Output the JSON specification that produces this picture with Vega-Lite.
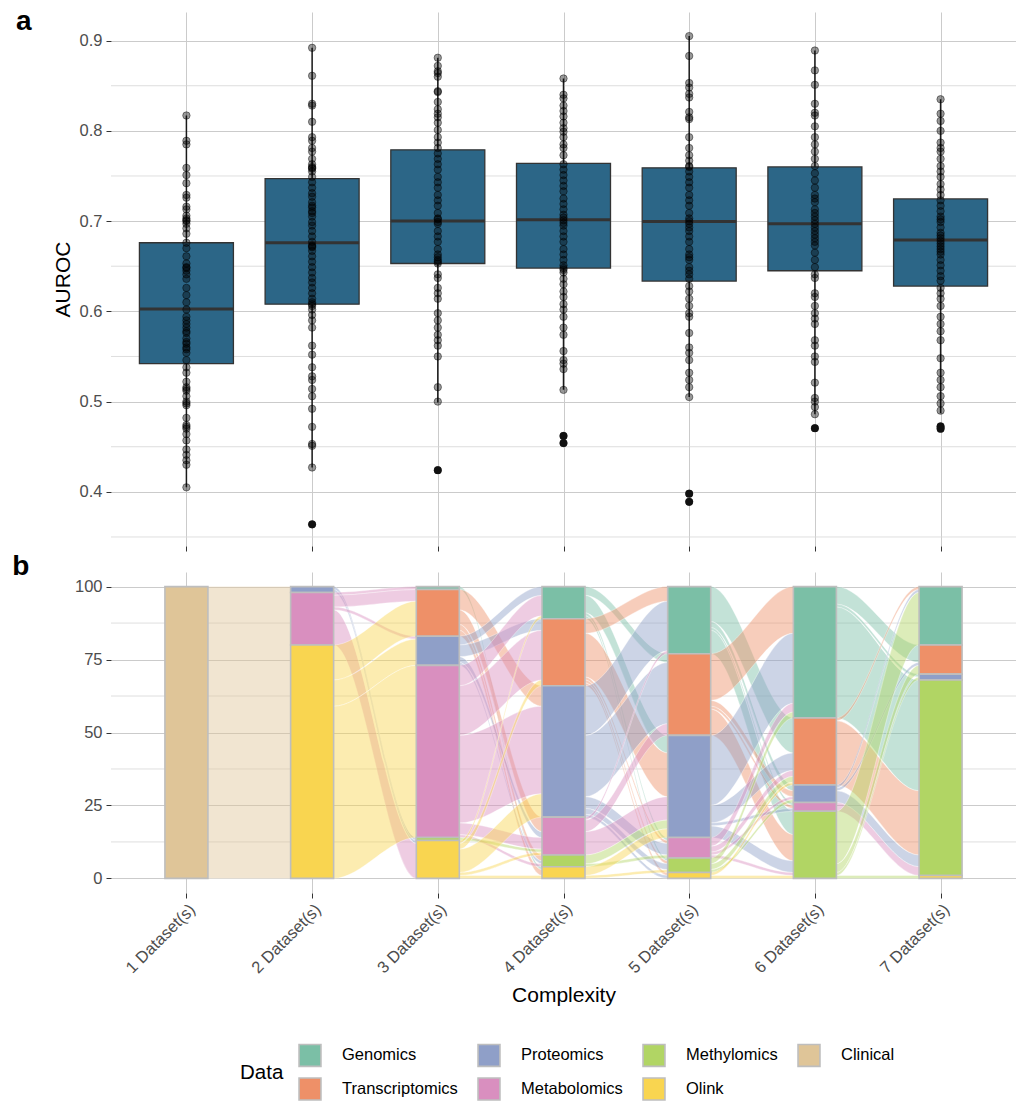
{
"$schema":"https://vega.github.io/schema/vega-lite/v6.json",
"padding":{"left":12,"top":8,"right":0,"bottom":0},
"spacing":26,
"bounds":"flush",
"config":{"font":"Liberation Sans","view":{"stroke":null},
 "axis":{"labelFontSize":16.5,"labelColor":"#4d4d4d","titleFontSize":21,"titleFontWeight":"normal","titleColor":"#000000","gridColor":"#cbcbcb","gridWidth":1,"tickColor":"#333333","tickSize":5,"domain":false,"labelPadding":4}},
"datasets":{
"box":[
{"g":1,"lo":0.405,"q1":0.542,"med":0.6025,"q3":0.676,"hi":0.817},
{"g":2,"lo":0.427,"q1":0.608,"med":0.676,"q3":0.747,"hi":0.892},
{"g":3,"lo":0.499,"q1":0.653,"med":0.700,"q3":0.779,"hi":0.881},
{"g":4,"lo":0.513,"q1":0.648,"med":0.7015,"q3":0.764,"hi":0.858},
{"g":5,"lo":0.505,"q1":0.6335,"med":0.6995,"q3":0.759,"hi":0.905},
{"g":6,"lo":0.486,"q1":0.645,"med":0.697,"q3":0.760,"hi":0.889},
{"g":7,"lo":0.487,"q1":0.628,"med":0.679,"q3":0.7246,"hi":0.835}],
"out":[{"g":2,"v":0.364},{"g":3,"v":0.424},{"g":4,"v":0.462},{"g":4,"v":0.454},{"g":5,"v":0.398},{"g":5,"v":0.389},{"g":6,"v":0.4705},{"g":7,"v":0.4725},{"g":7,"v":0.470}],
"pts":[
{"g":1,"v":0.817},{"g":1,"v":0.789},{"g":1,"v":0.785},{"g":1,"v":0.759},{"g":1,"v":0.751},{"g":1,"v":0.742},{"g":1,"v":0.729},{"g":1,"v":0.726},{"g":1,"v":0.716},{"g":1,"v":0.713},{"g":1,"v":0.706},{"g":1,"v":0.701},{"g":1,"v":0.697},{"g":1,"v":0.692},{"g":1,"v":0.686},{"g":1,"v":0.676},{"g":1,"v":0.670},{"g":1,"v":0.661},{"g":1,"v":0.653},{"g":1,"v":0.649},{"g":1,"v":0.645},{"g":1,"v":0.641},{"g":1,"v":0.636},{"g":1,"v":0.626},{"g":1,"v":0.618},{"g":1,"v":0.610},{"g":1,"v":0.602},{"g":1,"v":0.594},{"g":1,"v":0.586},{"g":1,"v":0.582},{"g":1,"v":0.576},{"g":1,"v":0.570},{"g":1,"v":0.564},{"g":1,"v":0.560},{"g":1,"v":0.554},{"g":1,"v":0.546},{"g":1,"v":0.538},{"g":1,"v":0.532},{"g":1,"v":0.522},{"g":1,"v":0.516},{"g":1,"v":0.514},{"g":1,"v":0.506},{"g":1,"v":0.500},{"g":1,"v":0.496},{"g":1,"v":0.482},{"g":1,"v":0.474},{"g":1,"v":0.470},{"g":1,"v":0.464},{"g":1,"v":0.457},{"g":1,"v":0.447},{"g":1,"v":0.441},{"g":1,"v":0.435},{"g":1,"v":0.430},{"g":1,"v":0.405},{"g":1,"v":0.700},{"g":1,"v":0.703},{"g":1,"v":0.648},{"g":1,"v":0.590},{"g":1,"v":0.578},{"g":1,"v":0.566},{"g":1,"v":0.558},{"g":1,"v":0.512},{"g":1,"v":0.498},{"g":1,"v":0.472},
{"g":2,"v":0.892},{"g":2,"v":0.861},{"g":2,"v":0.830},{"g":2,"v":0.828},{"g":2,"v":0.810},{"g":2,"v":0.793},{"g":2,"v":0.789},{"g":2,"v":0.781},{"g":2,"v":0.777},{"g":2,"v":0.769},{"g":2,"v":0.763},{"g":2,"v":0.759},{"g":2,"v":0.755},{"g":2,"v":0.749},{"g":2,"v":0.743},{"g":2,"v":0.737},{"g":2,"v":0.731},{"g":2,"v":0.727},{"g":2,"v":0.721},{"g":2,"v":0.717},{"g":2,"v":0.711},{"g":2,"v":0.705},{"g":2,"v":0.699},{"g":2,"v":0.695},{"g":2,"v":0.689},{"g":2,"v":0.683},{"g":2,"v":0.677},{"g":2,"v":0.673},{"g":2,"v":0.667},{"g":2,"v":0.661},{"g":2,"v":0.655},{"g":2,"v":0.649},{"g":2,"v":0.643},{"g":2,"v":0.637},{"g":2,"v":0.632},{"g":2,"v":0.626},{"g":2,"v":0.620},{"g":2,"v":0.614},{"g":2,"v":0.608},{"g":2,"v":0.602},{"g":2,"v":0.596},{"g":2,"v":0.590},{"g":2,"v":0.582},{"g":2,"v":0.562},{"g":2,"v":0.552},{"g":2,"v":0.538},{"g":2,"v":0.528},{"g":2,"v":0.524},{"g":2,"v":0.514},{"g":2,"v":0.506},{"g":2,"v":0.492},{"g":2,"v":0.472},{"g":2,"v":0.453},{"g":2,"v":0.451},{"g":2,"v":0.427},{"g":2,"v":0.364},{"g":2,"v":0.760},{"g":2,"v":0.758},{"g":2,"v":0.715},{"g":2,"v":0.709},{"g":2,"v":0.672},{"g":2,"v":0.671},{"g":2,"v":0.610},{"g":2,"v":0.606},
{"g":3,"v":0.881},{"g":3,"v":0.872},{"g":3,"v":0.864},{"g":3,"v":0.860},{"g":3,"v":0.844},{"g":3,"v":0.832},{"g":3,"v":0.824},{"g":3,"v":0.819},{"g":3,"v":0.815},{"g":3,"v":0.809},{"g":3,"v":0.801},{"g":3,"v":0.793},{"g":3,"v":0.787},{"g":3,"v":0.781},{"g":3,"v":0.775},{"g":3,"v":0.769},{"g":3,"v":0.763},{"g":3,"v":0.757},{"g":3,"v":0.749},{"g":3,"v":0.743},{"g":3,"v":0.737},{"g":3,"v":0.729},{"g":3,"v":0.723},{"g":3,"v":0.717},{"g":3,"v":0.709},{"g":3,"v":0.703},{"g":3,"v":0.697},{"g":3,"v":0.689},{"g":3,"v":0.683},{"g":3,"v":0.677},{"g":3,"v":0.669},{"g":3,"v":0.663},{"g":3,"v":0.657},{"g":3,"v":0.653},{"g":3,"v":0.641},{"g":3,"v":0.637},{"g":3,"v":0.626},{"g":3,"v":0.620},{"g":3,"v":0.614},{"g":3,"v":0.598},{"g":3,"v":0.590},{"g":3,"v":0.582},{"g":3,"v":0.574},{"g":3,"v":0.568},{"g":3,"v":0.562},{"g":3,"v":0.550},{"g":3,"v":0.516},{"g":3,"v":0.500},{"g":3,"v":0.424},{"g":3,"v":0.866},{"g":3,"v":0.843},{"g":3,"v":0.702},{"g":3,"v":0.699},{"g":3,"v":0.660},{"g":3,"v":0.655},
{"g":4,"v":0.858},{"g":4,"v":0.840},{"g":4,"v":0.836},{"g":4,"v":0.828},{"g":4,"v":0.822},{"g":4,"v":0.816},{"g":4,"v":0.809},{"g":4,"v":0.803},{"g":4,"v":0.799},{"g":4,"v":0.793},{"g":4,"v":0.785},{"g":4,"v":0.781},{"g":4,"v":0.773},{"g":4,"v":0.763},{"g":4,"v":0.757},{"g":4,"v":0.751},{"g":4,"v":0.745},{"g":4,"v":0.739},{"g":4,"v":0.733},{"g":4,"v":0.725},{"g":4,"v":0.719},{"g":4,"v":0.713},{"g":4,"v":0.707},{"g":4,"v":0.701},{"g":4,"v":0.695},{"g":4,"v":0.689},{"g":4,"v":0.683},{"g":4,"v":0.677},{"g":4,"v":0.669},{"g":4,"v":0.663},{"g":4,"v":0.657},{"g":4,"v":0.651},{"g":4,"v":0.643},{"g":4,"v":0.636},{"g":4,"v":0.630},{"g":4,"v":0.622},{"g":4,"v":0.616},{"g":4,"v":0.608},{"g":4,"v":0.602},{"g":4,"v":0.594},{"g":4,"v":0.582},{"g":4,"v":0.574},{"g":4,"v":0.556},{"g":4,"v":0.546},{"g":4,"v":0.542},{"g":4,"v":0.536},{"g":4,"v":0.513},{"g":4,"v":0.462},{"g":4,"v":0.454},{"g":4,"v":0.704},{"g":4,"v":0.698},{"g":4,"v":0.648},{"g":4,"v":0.646},
{"g":5,"v":0.905},{"g":5,"v":0.883},{"g":5,"v":0.853},{"g":5,"v":0.848},{"g":5,"v":0.841},{"g":5,"v":0.837},{"g":5,"v":0.821},{"g":5,"v":0.815},{"g":5,"v":0.813},{"g":5,"v":0.793},{"g":5,"v":0.781},{"g":5,"v":0.773},{"g":5,"v":0.767},{"g":5,"v":0.761},{"g":5,"v":0.755},{"g":5,"v":0.749},{"g":5,"v":0.743},{"g":5,"v":0.737},{"g":5,"v":0.729},{"g":5,"v":0.723},{"g":5,"v":0.717},{"g":5,"v":0.709},{"g":5,"v":0.703},{"g":5,"v":0.697},{"g":5,"v":0.689},{"g":5,"v":0.683},{"g":5,"v":0.677},{"g":5,"v":0.669},{"g":5,"v":0.663},{"g":5,"v":0.657},{"g":5,"v":0.649},{"g":5,"v":0.641},{"g":5,"v":0.636},{"g":5,"v":0.628},{"g":5,"v":0.622},{"g":5,"v":0.614},{"g":5,"v":0.606},{"g":5,"v":0.598},{"g":5,"v":0.594},{"g":5,"v":0.576},{"g":5,"v":0.560},{"g":5,"v":0.554},{"g":5,"v":0.546},{"g":5,"v":0.532},{"g":5,"v":0.524},{"g":5,"v":0.516},{"g":5,"v":0.505},{"g":5,"v":0.398},{"g":5,"v":0.389},{"g":5,"v":0.760},{"g":5,"v":0.700},{"g":5,"v":0.693},{"g":5,"v":0.660},{"g":5,"v":0.645},
{"g":6,"v":0.889},{"g":6,"v":0.867},{"g":6,"v":0.851},{"g":6,"v":0.830},{"g":6,"v":0.820},{"g":6,"v":0.817},{"g":6,"v":0.805},{"g":6,"v":0.793},{"g":6,"v":0.785},{"g":6,"v":0.777},{"g":6,"v":0.769},{"g":6,"v":0.761},{"g":6,"v":0.753},{"g":6,"v":0.745},{"g":6,"v":0.737},{"g":6,"v":0.729},{"g":6,"v":0.721},{"g":6,"v":0.713},{"g":6,"v":0.705},{"g":6,"v":0.697},{"g":6,"v":0.689},{"g":6,"v":0.681},{"g":6,"v":0.673},{"g":6,"v":0.665},{"g":6,"v":0.657},{"g":6,"v":0.649},{"g":6,"v":0.641},{"g":6,"v":0.637},{"g":6,"v":0.620},{"g":6,"v":0.616},{"g":6,"v":0.606},{"g":6,"v":0.598},{"g":6,"v":0.592},{"g":6,"v":0.586},{"g":6,"v":0.568},{"g":6,"v":0.562},{"g":6,"v":0.550},{"g":6,"v":0.544},{"g":6,"v":0.521},{"g":6,"v":0.504},{"g":6,"v":0.500},{"g":6,"v":0.494},{"g":6,"v":0.486},{"g":6,"v":0.4705},{"g":6,"v":0.701},{"g":6,"v":0.693},{"g":6,"v":0.685},{"g":6,"v":0.677},{"g":6,"v":0.725},{"g":6,"v":0.709},
{"g":7,"v":0.835},{"g":7,"v":0.819},{"g":7,"v":0.811},{"g":7,"v":0.800},{"g":7,"v":0.787},{"g":7,"v":0.781},{"g":7,"v":0.777},{"g":7,"v":0.769},{"g":7,"v":0.761},{"g":7,"v":0.755},{"g":7,"v":0.749},{"g":7,"v":0.741},{"g":7,"v":0.735},{"g":7,"v":0.729},{"g":7,"v":0.723},{"g":7,"v":0.717},{"g":7,"v":0.711},{"g":7,"v":0.705},{"g":7,"v":0.699},{"g":7,"v":0.693},{"g":7,"v":0.687},{"g":7,"v":0.681},{"g":7,"v":0.675},{"g":7,"v":0.669},{"g":7,"v":0.663},{"g":7,"v":0.657},{"g":7,"v":0.651},{"g":7,"v":0.645},{"g":7,"v":0.639},{"g":7,"v":0.634},{"g":7,"v":0.626},{"g":7,"v":0.620},{"g":7,"v":0.614},{"g":7,"v":0.606},{"g":7,"v":0.594},{"g":7,"v":0.586},{"g":7,"v":0.578},{"g":7,"v":0.568},{"g":7,"v":0.548},{"g":7,"v":0.532},{"g":7,"v":0.524},{"g":7,"v":0.516},{"g":7,"v":0.506},{"g":7,"v":0.498},{"g":7,"v":0.490},{"g":7,"v":0.4725},{"g":7,"v":0.470},{"g":7,"v":0.684},{"g":7,"v":0.678},{"g":7,"v":0.672},{"g":7,"v":0.666},{"g":7,"v":0.702}],
"minorA":[{"m":0.35},{"m":0.45},{"m":0.55},{"m":0.65},{"m":0.75},{"m":0.85}],
"minorB":[{"m":12.5},{"m":37.5},{"m":62.5},{"m":87.5}],
"bars":[
{"c":1,"d":"Clinical","lo":0,"hi":100},
{"c":2,"d":"Proteomics","lo":98,"hi":100},{"c":2,"d":"Metabolomics","lo":80,"hi":98},{"c":2,"d":"Olink","lo":0,"hi":80},
{"c":3,"d":"Genomics","lo":99,"hi":100},{"c":3,"d":"Transcriptomics","lo":83,"hi":99},{"c":3,"d":"Proteomics","lo":73,"hi":83},{"c":3,"d":"Metabolomics","lo":14,"hi":73},{"c":3,"d":"Methylomics","lo":13,"hi":14},{"c":3,"d":"Olink","lo":0,"hi":13},
{"c":4,"d":"Genomics","lo":89,"hi":100},{"c":4,"d":"Transcriptomics","lo":66,"hi":89},{"c":4,"d":"Proteomics","lo":21,"hi":66},{"c":4,"d":"Metabolomics","lo":8,"hi":21},{"c":4,"d":"Methylomics","lo":4,"hi":8},{"c":4,"d":"Olink","lo":0,"hi":4},
{"c":5,"d":"Genomics","lo":77,"hi":100},{"c":5,"d":"Transcriptomics","lo":49,"hi":77},{"c":5,"d":"Proteomics","lo":14,"hi":49},{"c":5,"d":"Metabolomics","lo":7,"hi":14},{"c":5,"d":"Methylomics","lo":2,"hi":7},{"c":5,"d":"Olink","lo":0,"hi":2},
{"c":6,"d":"Genomics","lo":55,"hi":100},{"c":6,"d":"Transcriptomics","lo":32,"hi":55},{"c":6,"d":"Proteomics","lo":26,"hi":32},{"c":6,"d":"Metabolomics","lo":23,"hi":26},{"c":6,"d":"Methylomics","lo":0,"hi":23},
{"c":7,"d":"Genomics","lo":80,"hi":100},{"c":7,"d":"Transcriptomics","lo":70,"hi":80},{"c":7,"d":"Proteomics","lo":68,"hi":70},{"c":7,"d":"Methylomics","lo":1,"hi":68},{"c":7,"d":"Olink","lo":0,"hi":1}],
"flows":[
{"f":1,"d":"Clinical","x":1,"lo":0,"hi":100},{"f":1,"d":"Clinical","x":1.17,"lo":0,"hi":100},{"f":1,"d":"Clinical","x":1.83,"lo":0,"hi":100},{"f":1,"d":"Clinical","x":2,"lo":0,"hi":100},
{"f":2,"d":"Proteomics","x":2,"lo":99,"hi":100},{"f":2,"d":"Proteomics","x":2.17,"lo":99,"hi":100},{"f":2,"d":"Proteomics","x":2.83,"lo":13,"hi":14},{"f":2,"d":"Proteomics","x":3,"lo":13,"hi":14},
{"f":3,"d":"Proteomics","x":2,"lo":98,"hi":99},{"f":3,"d":"Proteomics","x":2.17,"lo":98,"hi":99},{"f":3,"d":"Proteomics","x":2.83,"lo":12,"hi":13},{"f":3,"d":"Proteomics","x":3,"lo":12,"hi":13},
{"f":4,"d":"Metabolomics","x":2,"lo":97,"hi":98},{"f":4,"d":"Metabolomics","x":2.17,"lo":97,"hi":98},{"f":4,"d":"Metabolomics","x":2.83,"lo":99,"hi":100},{"f":4,"d":"Metabolomics","x":3,"lo":99,"hi":100},
{"f":5,"d":"Metabolomics","x":2,"lo":93,"hi":97},{"f":5,"d":"Metabolomics","x":2.17,"lo":93,"hi":97},{"f":5,"d":"Metabolomics","x":2.83,"lo":95,"hi":99},{"f":5,"d":"Metabolomics","x":3,"lo":95,"hi":99},
{"f":6,"d":"Metabolomics","x":2,"lo":92,"hi":93},{"f":6,"d":"Metabolomics","x":2.17,"lo":92,"hi":93},{"f":6,"d":"Metabolomics","x":2.83,"lo":82,"hi":83},{"f":6,"d":"Metabolomics","x":3,"lo":82,"hi":83},
{"f":7,"d":"Metabolomics","x":2,"lo":80,"hi":92},{"f":7,"d":"Metabolomics","x":2.17,"lo":80,"hi":92},{"f":7,"d":"Metabolomics","x":2.83,"lo":0,"hi":12},{"f":7,"d":"Metabolomics","x":3,"lo":0,"hi":12},
{"f":8,"d":"Olink","x":2,"lo":68,"hi":80},{"f":8,"d":"Olink","x":2.17,"lo":68,"hi":80},{"f":8,"d":"Olink","x":2.83,"lo":83,"hi":95},{"f":8,"d":"Olink","x":3,"lo":83,"hi":95},
{"f":9,"d":"Olink","x":2,"lo":59,"hi":68},{"f":9,"d":"Olink","x":2.17,"lo":59,"hi":68},{"f":9,"d":"Olink","x":2.83,"lo":73,"hi":82},{"f":9,"d":"Olink","x":3,"lo":73,"hi":82},
{"f":10,"d":"Olink","x":2,"lo":0,"hi":59},{"f":10,"d":"Olink","x":2.17,"lo":0,"hi":59},{"f":10,"d":"Olink","x":2.83,"lo":14,"hi":73},{"f":10,"d":"Olink","x":3,"lo":14,"hi":73},
{"f":11,"d":"Genomics","x":3,"lo":99,"hi":100},{"f":11,"d":"Genomics","x":3.17,"lo":99,"hi":100},{"f":11,"d":"Genomics","x":3.83,"lo":3,"hi":4},{"f":11,"d":"Genomics","x":4,"lo":3,"hi":4},
{"f":12,"d":"Transcriptomics","x":3,"lo":92,"hi":99},{"f":12,"d":"Transcriptomics","x":3.17,"lo":92,"hi":99},{"f":12,"d":"Transcriptomics","x":3.83,"lo":59,"hi":66},{"f":12,"d":"Transcriptomics","x":4,"lo":59,"hi":66},
{"f":13,"d":"Transcriptomics","x":3,"lo":87,"hi":92},{"f":13,"d":"Transcriptomics","x":3.17,"lo":87,"hi":92},{"f":13,"d":"Transcriptomics","x":3.83,"lo":16,"hi":21},{"f":13,"d":"Transcriptomics","x":4,"lo":16,"hi":21},
{"f":14,"d":"Transcriptomics","x":3,"lo":85,"hi":87},{"f":14,"d":"Transcriptomics","x":3.17,"lo":85,"hi":87},{"f":14,"d":"Transcriptomics","x":3.83,"lo":6,"hi":8},{"f":14,"d":"Transcriptomics","x":4,"lo":6,"hi":8},
{"f":15,"d":"Transcriptomics","x":3,"lo":83,"hi":85},{"f":15,"d":"Transcriptomics","x":3.17,"lo":83,"hi":85},{"f":15,"d":"Transcriptomics","x":3.83,"lo":1,"hi":3},{"f":15,"d":"Transcriptomics","x":4,"lo":1,"hi":3},
{"f":16,"d":"Proteomics","x":3,"lo":80,"hi":83},{"f":16,"d":"Proteomics","x":3.17,"lo":80,"hi":83},{"f":16,"d":"Proteomics","x":3.83,"lo":97,"hi":100},{"f":16,"d":"Proteomics","x":4,"lo":97,"hi":100},
{"f":17,"d":"Proteomics","x":3,"lo":76,"hi":80},{"f":17,"d":"Proteomics","x":3.17,"lo":76,"hi":80},{"f":17,"d":"Proteomics","x":3.83,"lo":85,"hi":89},{"f":17,"d":"Proteomics","x":4,"lo":85,"hi":89},
{"f":18,"d":"Proteomics","x":3,"lo":74,"hi":76},{"f":18,"d":"Proteomics","x":3.17,"lo":74,"hi":76},{"f":18,"d":"Proteomics","x":3.83,"lo":14,"hi":16},{"f":18,"d":"Proteomics","x":4,"lo":14,"hi":16},
{"f":19,"d":"Proteomics","x":3,"lo":73,"hi":74},{"f":19,"d":"Proteomics","x":3.17,"lo":73,"hi":74},{"f":19,"d":"Proteomics","x":3.83,"lo":5,"hi":6},{"f":19,"d":"Proteomics","x":4,"lo":5,"hi":6},
{"f":20,"d":"Metabolomics","x":3,"lo":66,"hi":73},{"f":20,"d":"Metabolomics","x":3.17,"lo":66,"hi":73},{"f":20,"d":"Metabolomics","x":3.83,"lo":90,"hi":97},{"f":20,"d":"Metabolomics","x":4,"lo":90,"hi":97},
{"f":21,"d":"Metabolomics","x":3,"lo":49,"hi":66},{"f":21,"d":"Metabolomics","x":3.17,"lo":49,"hi":66},{"f":21,"d":"Metabolomics","x":3.83,"lo":68,"hi":85},{"f":21,"d":"Metabolomics","x":4,"lo":68,"hi":85},
{"f":22,"d":"Metabolomics","x":3,"lo":19,"hi":49},{"f":22,"d":"Metabolomics","x":3.17,"lo":19,"hi":49},{"f":22,"d":"Metabolomics","x":3.83,"lo":29,"hi":59},{"f":22,"d":"Metabolomics","x":4,"lo":29,"hi":59},
{"f":23,"d":"Metabolomics","x":3,"lo":15,"hi":19},{"f":23,"d":"Metabolomics","x":3.17,"lo":15,"hi":19},{"f":23,"d":"Metabolomics","x":3.83,"lo":10,"hi":14},{"f":23,"d":"Metabolomics","x":4,"lo":10,"hi":14},
{"f":24,"d":"Metabolomics","x":3,"lo":14,"hi":15},{"f":24,"d":"Metabolomics","x":3.17,"lo":14,"hi":15},{"f":24,"d":"Metabolomics","x":3.83,"lo":4,"hi":5},{"f":24,"d":"Metabolomics","x":4,"lo":4,"hi":5},
{"f":25,"d":"Methylomics","x":3,"lo":13,"hi":14},{"f":25,"d":"Methylomics","x":3.17,"lo":13,"hi":14},{"f":25,"d":"Methylomics","x":3.83,"lo":9,"hi":10},{"f":25,"d":"Methylomics","x":4,"lo":9,"hi":10},
{"f":26,"d":"Olink","x":3,"lo":12,"hi":13},{"f":26,"d":"Olink","x":3.17,"lo":12,"hi":13},{"f":26,"d":"Olink","x":3.83,"lo":89,"hi":90},{"f":26,"d":"Olink","x":4,"lo":89,"hi":90},
{"f":27,"d":"Olink","x":3,"lo":10,"hi":12},{"f":27,"d":"Olink","x":3.17,"lo":10,"hi":12},{"f":27,"d":"Olink","x":3.83,"lo":66,"hi":68},{"f":27,"d":"Olink","x":4,"lo":66,"hi":68},
{"f":28,"d":"Olink","x":3,"lo":2,"hi":10},{"f":28,"d":"Olink","x":3.17,"lo":2,"hi":10},{"f":28,"d":"Olink","x":3.83,"lo":21,"hi":29},{"f":28,"d":"Olink","x":4,"lo":21,"hi":29},
{"f":29,"d":"Olink","x":3,"lo":1,"hi":2},{"f":29,"d":"Olink","x":3.17,"lo":1,"hi":2},{"f":29,"d":"Olink","x":3.83,"lo":8,"hi":9},{"f":29,"d":"Olink","x":4,"lo":8,"hi":9},
{"f":30,"d":"Olink","x":3,"lo":0,"hi":1},{"f":30,"d":"Olink","x":3.17,"lo":0,"hi":1},{"f":30,"d":"Olink","x":3.83,"lo":0,"hi":1},{"f":30,"d":"Olink","x":4,"lo":0,"hi":1},
{"f":31,"d":"Genomics","x":4,"lo":97,"hi":100},{"f":31,"d":"Genomics","x":4.17,"lo":97,"hi":100},{"f":31,"d":"Genomics","x":4.83,"lo":74,"hi":77},{"f":31,"d":"Genomics","x":5,"lo":74,"hi":77},
{"f":32,"d":"Genomics","x":4,"lo":91,"hi":97},{"f":32,"d":"Genomics","x":4.17,"lo":91,"hi":97},{"f":32,"d":"Genomics","x":4.83,"lo":43,"hi":49},{"f":32,"d":"Genomics","x":5,"lo":43,"hi":49},
{"f":33,"d":"Genomics","x":4,"lo":90,"hi":91},{"f":33,"d":"Genomics","x":4.17,"lo":90,"hi":91},{"f":33,"d":"Genomics","x":4.83,"lo":13,"hi":14},{"f":33,"d":"Genomics","x":5,"lo":13,"hi":14},
{"f":34,"d":"Genomics","x":4,"lo":89,"hi":90},{"f":34,"d":"Genomics","x":4.17,"lo":89,"hi":90},{"f":34,"d":"Genomics","x":4.83,"lo":6,"hi":7},{"f":34,"d":"Genomics","x":5,"lo":6,"hi":7},
{"f":35,"d":"Transcriptomics","x":4,"lo":84,"hi":89},{"f":35,"d":"Transcriptomics","x":4.17,"lo":84,"hi":89},{"f":35,"d":"Transcriptomics","x":4.83,"lo":95,"hi":100},{"f":35,"d":"Transcriptomics","x":5,"lo":95,"hi":100},
{"f":36,"d":"Transcriptomics","x":4,"lo":69,"hi":84},{"f":36,"d":"Transcriptomics","x":4.17,"lo":69,"hi":84},{"f":36,"d":"Transcriptomics","x":4.83,"lo":28,"hi":43},{"f":36,"d":"Transcriptomics","x":5,"lo":28,"hi":43},
{"f":37,"d":"Transcriptomics","x":4,"lo":68,"hi":69},{"f":37,"d":"Transcriptomics","x":4.17,"lo":68,"hi":69},{"f":37,"d":"Transcriptomics","x":4.83,"lo":12,"hi":13},{"f":37,"d":"Transcriptomics","x":5,"lo":12,"hi":13},
{"f":38,"d":"Transcriptomics","x":4,"lo":67,"hi":68},{"f":38,"d":"Transcriptomics","x":4.17,"lo":67,"hi":68},{"f":38,"d":"Transcriptomics","x":4.83,"lo":5,"hi":6},{"f":38,"d":"Transcriptomics","x":5,"lo":5,"hi":6},
{"f":39,"d":"Transcriptomics","x":4,"lo":66,"hi":67},{"f":39,"d":"Transcriptomics","x":4.17,"lo":66,"hi":67},{"f":39,"d":"Transcriptomics","x":4.83,"lo":1,"hi":2},{"f":39,"d":"Transcriptomics","x":5,"lo":1,"hi":2},
{"f":40,"d":"Proteomics","x":4,"lo":49,"hi":66},{"f":40,"d":"Proteomics","x":4.17,"lo":49,"hi":66},{"f":40,"d":"Proteomics","x":4.83,"lo":78,"hi":95},{"f":40,"d":"Proteomics","x":5,"lo":78,"hi":95},
{"f":41,"d":"Proteomics","x":4,"lo":28,"hi":49},{"f":41,"d":"Proteomics","x":4.17,"lo":28,"hi":49},{"f":41,"d":"Proteomics","x":4.83,"lo":53,"hi":74},{"f":41,"d":"Proteomics","x":5,"lo":53,"hi":74},
{"f":42,"d":"Proteomics","x":4,"lo":24,"hi":28},{"f":42,"d":"Proteomics","x":4.17,"lo":24,"hi":28},{"f":42,"d":"Proteomics","x":4.83,"lo":8,"hi":12},{"f":42,"d":"Proteomics","x":5,"lo":8,"hi":12},
{"f":43,"d":"Proteomics","x":4,"lo":22,"hi":24},{"f":43,"d":"Proteomics","x":4.17,"lo":22,"hi":24},{"f":43,"d":"Proteomics","x":4.83,"lo":3,"hi":5},{"f":43,"d":"Proteomics","x":5,"lo":3,"hi":5},
{"f":44,"d":"Proteomics","x":4,"lo":21,"hi":22},{"f":44,"d":"Proteomics","x":4.17,"lo":21,"hi":22},{"f":44,"d":"Proteomics","x":4.83,"lo":0,"hi":1},{"f":44,"d":"Proteomics","x":5,"lo":0,"hi":1},
{"f":45,"d":"Metabolomics","x":4,"lo":20,"hi":21},{"f":45,"d":"Metabolomics","x":4.17,"lo":20,"hi":21},{"f":45,"d":"Metabolomics","x":4.83,"lo":77,"hi":78},{"f":45,"d":"Metabolomics","x":5,"lo":77,"hi":78},
{"f":46,"d":"Metabolomics","x":4,"lo":16,"hi":20},{"f":46,"d":"Metabolomics","x":4.17,"lo":16,"hi":20},{"f":46,"d":"Metabolomics","x":4.83,"lo":49,"hi":53},{"f":46,"d":"Metabolomics","x":5,"lo":49,"hi":53},
{"f":47,"d":"Metabolomics","x":4,"lo":8,"hi":16},{"f":47,"d":"Metabolomics","x":4.17,"lo":8,"hi":16},{"f":47,"d":"Metabolomics","x":4.83,"lo":20,"hi":28},{"f":47,"d":"Metabolomics","x":5,"lo":20,"hi":28},
{"f":48,"d":"Methylomics","x":4,"lo":5,"hi":8},{"f":48,"d":"Methylomics","x":4.17,"lo":5,"hi":8},{"f":48,"d":"Methylomics","x":4.83,"lo":17,"hi":20},{"f":48,"d":"Methylomics","x":5,"lo":17,"hi":20},
{"f":49,"d":"Methylomics","x":4,"lo":4,"hi":5},{"f":49,"d":"Methylomics","x":4.17,"lo":4,"hi":5},{"f":49,"d":"Methylomics","x":4.83,"lo":7,"hi":8},{"f":49,"d":"Methylomics","x":5,"lo":7,"hi":8},
{"f":50,"d":"Olink","x":4,"lo":1,"hi":4},{"f":50,"d":"Olink","x":4.17,"lo":1,"hi":4},{"f":50,"d":"Olink","x":4.83,"lo":14,"hi":17},{"f":50,"d":"Olink","x":5,"lo":14,"hi":17},
{"f":51,"d":"Olink","x":4,"lo":0,"hi":1},{"f":51,"d":"Olink","x":4.17,"lo":0,"hi":1},{"f":51,"d":"Olink","x":4.83,"lo":2,"hi":3},{"f":51,"d":"Olink","x":5,"lo":2,"hi":3},
{"f":52,"d":"Genomics","x":5,"lo":88,"hi":100},{"f":52,"d":"Genomics","x":5.17,"lo":88,"hi":100},{"f":52,"d":"Genomics","x":5.83,"lo":43,"hi":55},{"f":52,"d":"Genomics","x":6,"lo":43,"hi":55},
{"f":53,"d":"Genomics","x":5,"lo":86,"hi":88},{"f":53,"d":"Genomics","x":5.17,"lo":86,"hi":88},{"f":53,"d":"Genomics","x":5.83,"lo":30,"hi":32},{"f":53,"d":"Genomics","x":6,"lo":30,"hi":32},
{"f":54,"d":"Genomics","x":5,"lo":85,"hi":86},{"f":54,"d":"Genomics","x":5.17,"lo":85,"hi":86},{"f":54,"d":"Genomics","x":5.83,"lo":25,"hi":26},{"f":54,"d":"Genomics","x":6,"lo":25,"hi":26},
{"f":55,"d":"Genomics","x":5,"lo":77,"hi":85},{"f":55,"d":"Genomics","x":5.17,"lo":77,"hi":85},{"f":55,"d":"Genomics","x":5.83,"lo":15,"hi":23},{"f":55,"d":"Genomics","x":6,"lo":15,"hi":23},
{"f":56,"d":"Transcriptomics","x":5,"lo":61,"hi":77},{"f":56,"d":"Transcriptomics","x":5.17,"lo":61,"hi":77},{"f":56,"d":"Transcriptomics","x":5.83,"lo":84,"hi":100},{"f":56,"d":"Transcriptomics","x":6,"lo":84,"hi":100},
{"f":57,"d":"Transcriptomics","x":5,"lo":59,"hi":61},{"f":57,"d":"Transcriptomics","x":5.17,"lo":59,"hi":61},{"f":57,"d":"Transcriptomics","x":5.83,"lo":28,"hi":30},{"f":57,"d":"Transcriptomics","x":6,"lo":28,"hi":30},
{"f":58,"d":"Transcriptomics","x":5,"lo":58,"hi":59},{"f":58,"d":"Transcriptomics","x":5.17,"lo":58,"hi":59},{"f":58,"d":"Transcriptomics","x":5.83,"lo":24,"hi":25},{"f":58,"d":"Transcriptomics","x":6,"lo":24,"hi":25},
{"f":59,"d":"Transcriptomics","x":5,"lo":49,"hi":58},{"f":59,"d":"Transcriptomics","x":5.17,"lo":49,"hi":58},{"f":59,"d":"Transcriptomics","x":5.83,"lo":6,"hi":15},{"f":59,"d":"Transcriptomics","x":6,"lo":6,"hi":15},
{"f":60,"d":"Proteomics","x":5,"lo":25,"hi":49},{"f":60,"d":"Proteomics","x":5.17,"lo":25,"hi":49},{"f":60,"d":"Proteomics","x":5.83,"lo":60,"hi":84},{"f":60,"d":"Proteomics","x":6,"lo":60,"hi":84},
{"f":61,"d":"Proteomics","x":5,"lo":19,"hi":25},{"f":61,"d":"Proteomics","x":5.17,"lo":19,"hi":25},{"f":61,"d":"Proteomics","x":5.83,"lo":37,"hi":43},{"f":61,"d":"Proteomics","x":6,"lo":37,"hi":43},
{"f":62,"d":"Proteomics","x":5,"lo":18,"hi":19},{"f":62,"d":"Proteomics","x":5.17,"lo":18,"hi":19},{"f":62,"d":"Proteomics","x":5.83,"lo":23,"hi":24},{"f":62,"d":"Proteomics","x":6,"lo":23,"hi":24},
{"f":63,"d":"Proteomics","x":5,"lo":14,"hi":18},{"f":63,"d":"Proteomics","x":5.17,"lo":14,"hi":18},{"f":63,"d":"Proteomics","x":5.83,"lo":2,"hi":6},{"f":63,"d":"Proteomics","x":6,"lo":2,"hi":6},
{"f":64,"d":"Metabolomics","x":5,"lo":11,"hi":14},{"f":64,"d":"Metabolomics","x":5.17,"lo":11,"hi":14},{"f":64,"d":"Metabolomics","x":5.83,"lo":57,"hi":60},{"f":64,"d":"Metabolomics","x":6,"lo":57,"hi":60},
{"f":65,"d":"Metabolomics","x":5,"lo":9,"hi":11},{"f":65,"d":"Metabolomics","x":5.17,"lo":9,"hi":11},{"f":65,"d":"Metabolomics","x":5.83,"lo":35,"hi":37},{"f":65,"d":"Metabolomics","x":6,"lo":35,"hi":37},
{"f":66,"d":"Metabolomics","x":5,"lo":8,"hi":9},{"f":66,"d":"Metabolomics","x":5.17,"lo":8,"hi":9},{"f":66,"d":"Metabolomics","x":5.83,"lo":27,"hi":28},{"f":66,"d":"Metabolomics","x":6,"lo":27,"hi":28},
{"f":67,"d":"Metabolomics","x":5,"lo":7,"hi":8},{"f":67,"d":"Metabolomics","x":5.17,"lo":7,"hi":8},{"f":67,"d":"Metabolomics","x":5.83,"lo":1,"hi":2},{"f":67,"d":"Metabolomics","x":6,"lo":1,"hi":2},
{"f":68,"d":"Methylomics","x":5,"lo":5,"hi":7},{"f":68,"d":"Methylomics","x":5.17,"lo":5,"hi":7},{"f":68,"d":"Methylomics","x":5.83,"lo":55,"hi":57},{"f":68,"d":"Methylomics","x":6,"lo":55,"hi":57},
{"f":69,"d":"Methylomics","x":5,"lo":3,"hi":5},{"f":69,"d":"Methylomics","x":5.17,"lo":3,"hi":5},{"f":69,"d":"Methylomics","x":5.83,"lo":33,"hi":35},{"f":69,"d":"Methylomics","x":6,"lo":33,"hi":35},
{"f":70,"d":"Methylomics","x":5,"lo":2,"hi":3},{"f":70,"d":"Methylomics","x":5.17,"lo":2,"hi":3},{"f":70,"d":"Methylomics","x":5.83,"lo":26,"hi":27},{"f":70,"d":"Methylomics","x":6,"lo":26,"hi":27},
{"f":71,"d":"Olink","x":5,"lo":1,"hi":2},{"f":71,"d":"Olink","x":5.17,"lo":1,"hi":2},{"f":71,"d":"Olink","x":5.83,"lo":32,"hi":33},{"f":71,"d":"Olink","x":6,"lo":32,"hi":33},
{"f":72,"d":"Olink","x":5,"lo":0,"hi":1},{"f":72,"d":"Olink","x":5.17,"lo":0,"hi":1},{"f":72,"d":"Olink","x":5.83,"lo":0,"hi":1},{"f":72,"d":"Olink","x":6,"lo":0,"hi":1},
{"f":73,"d":"Genomics","x":6,"lo":94,"hi":100},{"f":73,"d":"Genomics","x":6.17,"lo":94,"hi":100},{"f":73,"d":"Genomics","x":6.83,"lo":74,"hi":80},{"f":73,"d":"Genomics","x":7,"lo":74,"hi":80},
{"f":74,"d":"Genomics","x":6,"lo":93,"hi":94},{"f":74,"d":"Genomics","x":6.17,"lo":93,"hi":94},{"f":74,"d":"Genomics","x":6.83,"lo":69,"hi":70},{"f":74,"d":"Genomics","x":7,"lo":69,"hi":70},
{"f":75,"d":"Genomics","x":6,"lo":55,"hi":93},{"f":75,"d":"Genomics","x":6.17,"lo":55,"hi":93},{"f":75,"d":"Genomics","x":6.83,"lo":30,"hi":68},{"f":75,"d":"Genomics","x":7,"lo":30,"hi":68},
{"f":76,"d":"Transcriptomics","x":6,"lo":54,"hi":55},{"f":76,"d":"Transcriptomics","x":6.17,"lo":54,"hi":55},{"f":76,"d":"Transcriptomics","x":6.83,"lo":99,"hi":100},{"f":76,"d":"Transcriptomics","x":7,"lo":99,"hi":100},
{"f":77,"d":"Transcriptomics","x":6,"lo":32,"hi":54},{"f":77,"d":"Transcriptomics","x":6.17,"lo":32,"hi":54},{"f":77,"d":"Transcriptomics","x":6.83,"lo":8,"hi":30},{"f":77,"d":"Transcriptomics","x":7,"lo":8,"hi":30},
{"f":78,"d":"Proteomics","x":6,"lo":31,"hi":32},{"f":78,"d":"Proteomics","x":6.17,"lo":31,"hi":32},{"f":78,"d":"Proteomics","x":6.83,"lo":98,"hi":99},{"f":78,"d":"Proteomics","x":7,"lo":98,"hi":99},
{"f":79,"d":"Proteomics","x":6,"lo":30,"hi":31},{"f":79,"d":"Proteomics","x":6.17,"lo":30,"hi":31},{"f":79,"d":"Proteomics","x":6.83,"lo":73,"hi":74},{"f":79,"d":"Proteomics","x":7,"lo":73,"hi":74},
{"f":80,"d":"Proteomics","x":6,"lo":26,"hi":30},{"f":80,"d":"Proteomics","x":6.17,"lo":26,"hi":30},{"f":80,"d":"Proteomics","x":6.83,"lo":4,"hi":8},{"f":80,"d":"Proteomics","x":7,"lo":4,"hi":8},
{"f":81,"d":"Metabolomics","x":6,"lo":23,"hi":26},{"f":81,"d":"Metabolomics","x":6.17,"lo":23,"hi":26},{"f":81,"d":"Metabolomics","x":6.83,"lo":1,"hi":4},{"f":81,"d":"Metabolomics","x":7,"lo":1,"hi":4},
{"f":82,"d":"Methylomics","x":6,"lo":5,"hi":23},{"f":82,"d":"Methylomics","x":6.17,"lo":5,"hi":23},{"f":82,"d":"Methylomics","x":6.83,"lo":80,"hi":98},{"f":82,"d":"Methylomics","x":7,"lo":80,"hi":98},
{"f":83,"d":"Methylomics","x":6,"lo":2,"hi":5},{"f":83,"d":"Methylomics","x":6.17,"lo":2,"hi":5},{"f":83,"d":"Methylomics","x":6.83,"lo":70,"hi":73},{"f":83,"d":"Methylomics","x":7,"lo":70,"hi":73},
{"f":84,"d":"Methylomics","x":6,"lo":1,"hi":2},{"f":84,"d":"Methylomics","x":6.17,"lo":1,"hi":2},{"f":84,"d":"Methylomics","x":6.83,"lo":68,"hi":69},{"f":84,"d":"Methylomics","x":7,"lo":68,"hi":69},
{"f":85,"d":"Methylomics","x":6,"lo":0,"hi":1},{"f":85,"d":"Methylomics","x":6.17,"lo":0,"hi":1},{"f":85,"d":"Methylomics","x":6.83,"lo":0,"hi":1},{"f":85,"d":"Methylomics","x":7,"lo":0,"hi":1}]
},
"vconcat":[
{
"width":905,"height":534,
"title":{"text":"a","orient":"left","anchor":"end","angle":0,"fontSize":28,"fontWeight":"bold","color":"#000000","offset":5,"align":"right","baseline":"alphabetic","dy":18},
"layer":[
{"data":{"name":"minorA"},"mark":{"type":"rule","color":"#d6d6d6","strokeWidth":0.8},
 "encoding":{"y":{"field":"m","type":"quantitative","title":"AUROC","scale":{"domain":[0.34,0.9317],"nice":false,"zero":false,"padding":0},
  "axis":{"values":[0.4,0.5,0.6,0.7,0.8,0.9],"format":".1f","grid":true,"ticks":true,"titlePadding":6}}}},
{"data":{"name":"box"},"mark":{"type":"rule","color":"#1a1a1a","strokeWidth":1.5},
 "encoding":{"x":{"field":"g","type":"quantitative","title":null,"scale":{"domain":[0.4,7.6],"nice":false,"zero":false,"padding":0},
  "axis":{"values":[1,2,3,4,5,6,7],"labels":false,"grid":true,"ticks":true,"title":null}},
  "y":{"field":"lo","type":"quantitative","title":"AUROC"},"y2":{"field":"hi"}}},
{"data":{"name":"box"},"mark":{"type":"bar","width":94,"fill":"#2c6687","stroke":"#333333","strokeWidth":1.3},
 "encoding":{"x":{"field":"g","type":"quantitative","title":null},"y":{"field":"q1","type":"quantitative","title":"AUROC"},"y2":{"field":"q3"}}},
{"data":{"name":"box"},"mark":{"type":"tick","orient":"horizontal","size":94,"thickness":3,"color":"#333333","opacity":1},
 "encoding":{"x":{"field":"g","type":"quantitative","title":null},"y":{"field":"med","type":"quantitative","title":"AUROC"}}},
{"data":{"name":"pts"},"mark":{"type":"point","shape":"circle","filled":true,"size":55,"fill":"#000000","fillOpacity":0.4,"stroke":"#000000","strokeWidth":0.8,"strokeOpacity":0.55},
 "encoding":{"x":{"field":"g","type":"quantitative","title":null},"y":{"field":"v","type":"quantitative","title":"AUROC"}}},
{"data":{"name":"out"},"mark":{"type":"circle","size":60,"color":"#111111","opacity":1},
 "encoding":{"x":{"field":"g","type":"quantitative","title":null},"y":{"field":"v","type":"quantitative","title":"AUROC"}}}
]
},
{
"width":905,"height":321,
"title":{"text":"b","orient":"left","anchor":"end","angle":0,"fontSize":28,"fontWeight":"bold","color":"#000000","offset":28,"align":"right","baseline":"alphabetic","dy":3},
"layer":[
{"data":{"name":"minorB"},"mark":{"type":"rule","color":"#d6d6d6","strokeWidth":0.8},
 "encoding":{"y":{"field":"m","type":"quantitative","title":null,"scale":{"domain":[-5,105],"nice":false,"zero":false,"padding":0},
  "axis":{"values":[0,25,50,75,100],"grid":true,"ticks":true,"title":null}}}},
{"data":{"name":"flows"},"mark":{"type":"area","interpolate":"monotone","fillOpacity":0.45,"stroke":"#ffffff","strokeWidth":0.5,"strokeOpacity":0.7},
 "encoding":{"x":{"field":"x","type":"quantitative","title":"Complexity","scale":{"domain":[0.4,7.6],"nice":false,"zero":false,"padding":0},
  "axis":{"values":[1,2,3,4,5,6,7],"labelExpr":"datum.value + ' Dataset(s)'","labelAngle":-45,"labelAlign":"right","labelBaseline":"top","labelPadding":3,"grid":true,"ticks":true,"title":"Complexity","titlePadding":8}},
  "y":{"field":"lo","type":"quantitative","title":null},"y2":{"field":"hi"},
  "detail":{"field":"f","type":"nominal"},
  "color":{"field":"d","type":"nominal","title":"Data",
   "scale":{"domain":["Genomics","Proteomics","Methylomics","Clinical","Transcriptomics","Metabolomics","Olink"],
            "range":["#7bbfa6","#8f9fc8","#b1d564","#dfc598","#ee9068","#d98fbf","#f9d550"]},
   "legend":{"orient":"none","legendX":129,"legendY":1031,"direction":"horizontal","columns":4,"titleOrient":"left","titleFontSize":20.5,"titleFontWeight":"normal","titleColor":"#000000","titlePadding":14,"labelFontSize":16.5,"labelColor":"#000000","symbolType":"square","symbolSize":480,"symbolStrokeColor":"#bebebe","symbolStrokeWidth":1.6,"symbolOpacity":1,"symbolFillOpacity":1,"labelOffset":20,"columnPadding":16,"rowPadding":4}}}},
{"data":{"name":"bars"},"mark":{"type":"bar","width":43,"stroke":"#bebebe","strokeWidth":1.6,"opacity":1},
 "encoding":{"x":{"field":"c","type":"quantitative","title":"Complexity"},
  "y":{"field":"lo","type":"quantitative","title":null},"y2":{"field":"hi"},
  "color":{"field":"d","type":"nominal","title":"Data"}}}
]
}
]
}
